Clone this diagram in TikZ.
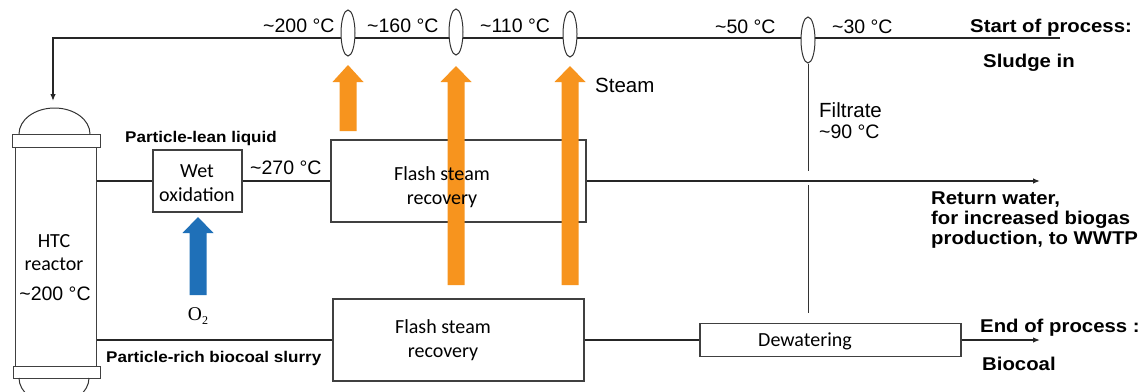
\documentclass[tikz,border=0pt]{standalone}
\usepackage{fontspec}
\setmainfont{Liberation Sans}
\newfontfamily\calibri{Carlito}
\newfontfamily\boldlab[FakeStretch=1.1]{Liberation Sans}
\newfontfamily\seriffont{Liberation Serif}
\usetikzlibrary{arrows.meta,shapes.geometric}
\definecolor{steamorange}{HTML}{F7941E}
\definecolor{oxblue}{HTML}{1F70B8}
\newcommand\fs[1]{\fontsize{#1}{#1}\selectfont}
\newcommand\blockarrow[5]{%
  \fill[#1] (#2-8.5,#3) -- (#2-8.5,#5) -- (#2-15.5,#5) -- (#2,#4) -- (#2+15.5,#5) -- (#2+8.5,#5) -- (#2+8.5,#3) -- cycle;}
\tikzset{
  x=1pt,y=-1pt,
  line/.style={line width=1.3pt, black!85},
  thinline/.style={line width=1pt, black!80},
  box/.style={draw=black!75, line width=1.1pt, rectangle, inner sep=0pt, fill=white},
  valve/.style={draw=black!80, line width=1pt, ellipse, fill=white, minimum width=14pt, minimum height=46pt, inner sep=0pt},
  temp/.style={font=\fs{19.5}, anchor=base west, inner sep=0pt},
  blab/.style={font=\boldlab\bfseries\fs{18.5}, anchor=base west, inner sep=0pt},
  plab/.style={font=\boldlab\bfseries\fs{15.5}, anchor=base west, inner sep=0pt},
  ctext/.style={font=\calibri\fs{20}, anchor=base, inner sep=0pt},
  tip/.style={-{Latex[length=7pt,width=5.5pt]}},
}
\begin{document}
\begin{tikzpicture}
\useasboundingbox (0,0) rectangle (1148,391);
\clip (0,0) rectangle (1148,391);
\fill[white] (0,0) rectangle (1148,391);

% coordinates
\coordinate (sludgein) at (1060,38);
\coordinate (corner) at (53,38);
\coordinate (reactortop) at (53,101);
\coordinate (returnend) at (1040,181);
\coordinate (coalend) at (1040,340);
\coordinate (filtA) at (808,171);
\coordinate (filtB) at (808,185);
\coordinate (filtC) at (808,313);

% top sludge line
\draw[line, tip] (sludgein) -- (corner) -- (reactortop);

% valves (heat exchangers)
\node[valve] (v1) at (348,33) {};
\node[valve] (v2) at (456,32) {};
\node[valve] (v3) at (570,34) {};
\node[valve] (v4) at (808,40) {};

% filtrate line
\draw[thinline] (v4.south) -- (filtA);
\draw[thinline] (filtB) -- (filtC);

% reactor
\node[box, line width=1pt, minimum width=81pt, minimum height=219pt] (reactor) at (55.5,256.5) {};
\draw[box, line width=1pt] (12,134) rectangle (100,147);
\draw[box, line width=1pt] (13,366) rectangle (100,378);
\draw[thinline] (19,134) arc[start angle=180, end angle=0, x radius=35.5pt, y radius=26pt];
\draw[thinline] (19,378) arc[start angle=180, end angle=360, x radius=35pt, y radius=26pt];

% boxes
\node[box, minimum width=89pt, minimum height=62pt] (wetox) at (197.5,181) {};
\node[box, minimum width=255pt, minimum height=82pt] (flash1) at (458.5,181) {};
\node[box, minimum width=251pt, minimum height=82pt] (flash2) at (458.5,340) {};
\node[box, minimum width=261pt, minimum height=33pt] (dewater) at (830.5,340) {};

% connectors
\draw[line] (reactor.east |- wetox.west) -- (wetox.west);
\draw[line] (wetox.east) -- (flash1.west);
\draw[line, tip] (flash1.east) -- (returnend);
\draw[line] (reactor.east |- flash2.west) -- (flash2.west);
\draw[line] (flash2.east) -- (dewater.west);
\draw[line, tip] (dewater.east) -- (coalend);

% block arrows
\blockarrow{steamorange}{348}{131}{65}{82}
\blockarrow{steamorange}{456}{285}{66}{82}
\blockarrow{steamorange}{570}{285}{66}{82}
\blockarrow{oxblue}{198}{295}{217}{233}

% temperature labels
\node[temp] (t200) at (263,32) {\textasciitilde200 °C};
\node[temp] (t160) at (367,32) {\textasciitilde160 °C};
\node[temp] (t110) at (480,32) {\textasciitilde110 °C};
\node[temp] (t50) at (715,33) {\textasciitilde50 °C};
\node[temp] (t30) at (832,33) {\textasciitilde30 °C};
\node[temp] (t270) at (250,174) {\textasciitilde270 °C};
\node[temp, font=\fs{20.5}] (steam) at (595,92) {Steam};
\node[temp, font=\fs{20.5}] (filt) at (819,117) {Filtrate};
\node[temp] (t90) at (819,138) {\textasciitilde90 °C};

% bold labels
\node[blab] (start) at (970,32) {Start of process:};
\node[blab] (sludge) at (983,67) {Sludge in};
\node[plab] (lean) at (125,142) {Particle-lean liquid};
\node[plab] (rich) at (106,362) {Particle-rich biocoal slurry};
\node[blab] (ret1) at (931,204) {Return water,};
\node[blab] (ret2) at (931,224) {for increased biogas};
\node[blab] (ret3) at (931,244) {production, to WWTP};
\node[blab] (endp) at (980,332) {End of process :};
\node[blab] (coal) at (982,370) {Biocoal};

% box texts
\node[ctext] (wt1) at (197,177) {Wet};
\node[ctext] (wt2) at (197,201) {oxidation};
\node[ctext] (f1a) at (442,180) {Flash steam};
\node[ctext] (f1b) at (442,204) {recovery};
\node[ctext] (f2a) at (443,333) {Flash steam};
\node[ctext] (f2b) at (443,357) {recovery};
\node[ctext] (dw) at (805,346) {Dewatering};
\node[ctext] (htc1) at (54,247) {HTC};
\node[ctext] (htc2) at (54,270) {reactor};
\node[temp, anchor=base] (htc3) at (55,300) {\textasciitilde200 °C};
\node[anchor=base, inner sep=0pt, font=\seriffont\fs{19.5}] (o2) at (198,320) {O\raisebox{-0.22em}{\fs{12}2}};
\end{tikzpicture}
\end{document}
